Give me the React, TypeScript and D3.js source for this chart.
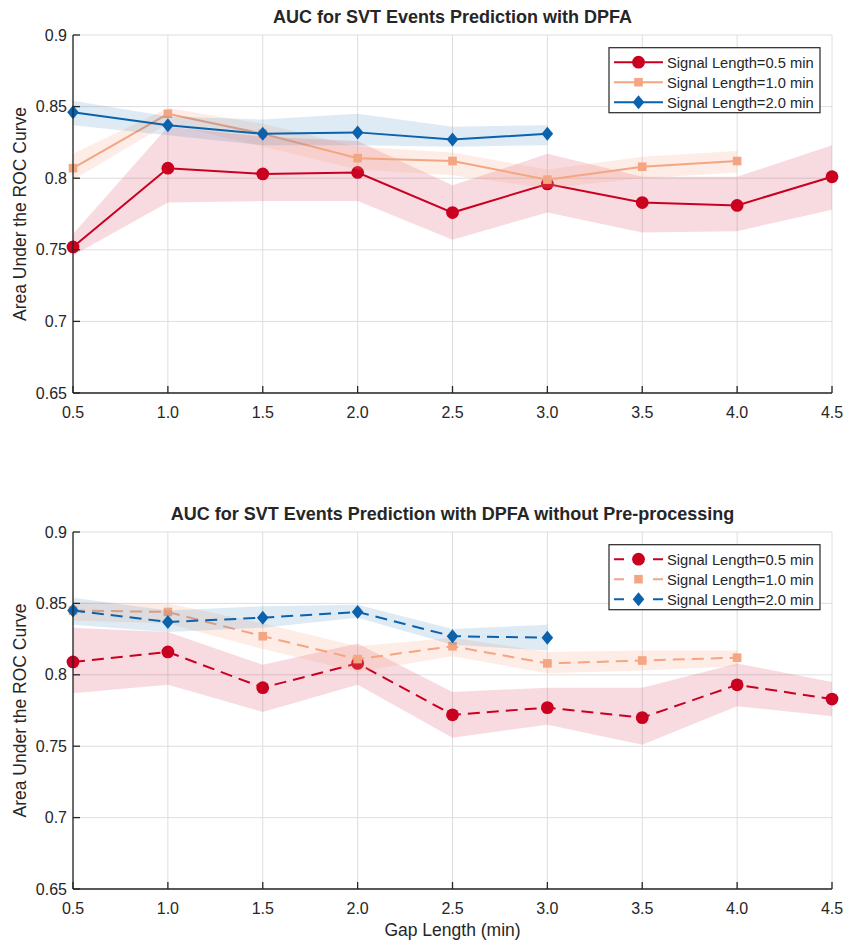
import React from "react";
import * as d3 from "d3";

const gaps = [0.5, 1.0, 1.5, 2.0, 2.5, 3.0, 3.5, 4.0, 4.5];
const xTicks = [0.5, 1.0, 1.5, 2.0, 2.5, 3.0, 3.5, 4.0, 4.5];
const yTicks = [0.65, 0.7, 0.75, 0.8, 0.85, 0.9];
const seriesNames = ["Signal Length=0.5 min", "Signal Length=1.0 min", "Signal Length=2.0 min"];
const seriesColors = ["#ca0020", "#f4a582", "#0a62ad"];
const bandOpacity = [0.14, 0.2, 0.13];
const markers = ["circle", "square", "diamond"];

// Top panel (with pre-processing)
const top05 = [0.752, 0.807, 0.803, 0.804, 0.776, 0.796, 0.783, 0.781, 0.801];
const top05Lo = [0.746, 0.783, 0.784, 0.784, 0.757, 0.776, 0.762, 0.763, 0.778];
const top05Hi = [0.761, 0.836, 0.829, 0.826, 0.795, 0.817, 0.801, 0.801, 0.823];
const top10 = [0.807, 0.845, 0.831, 0.814, 0.812, 0.799, 0.808, 0.812];
const top10Lo = [0.799, 0.838, 0.822, 0.806, 0.802, 0.793, 0.800, 0.804];
const top10Hi = [0.817, 0.849, 0.838, 0.822, 0.818, 0.806, 0.815, 0.819];
const top20 = [0.846, 0.837, 0.831, 0.832, 0.827, 0.831];
const top20Lo = [0.837, 0.830, 0.823, 0.823, 0.822, 0.823];
const top20Hi = [0.854, 0.843, 0.841, 0.845, 0.836, 0.837];

// Bottom panel (without pre-processing)
const bot05 = [0.809, 0.816, 0.791, 0.808, 0.772, 0.777, 0.770, 0.793, 0.783];
const bot05Lo = [0.787, 0.793, 0.774, 0.793, 0.756, 0.765, 0.751, 0.778, 0.771];
const bot05Hi = [0.833, 0.830, 0.807, 0.822, 0.788, 0.791, 0.791, 0.808, 0.795];
const bot10 = [0.845, 0.844, 0.827, 0.811, 0.820, 0.808, 0.810, 0.812];
const bot10Lo = [0.838, 0.836, 0.818, 0.802, 0.813, 0.801, 0.803, 0.806];
const bot10Hi = [0.851, 0.850, 0.836, 0.820, 0.826, 0.816, 0.817, 0.817];
const bot20 = [0.845, 0.837, 0.840, 0.844, 0.827, 0.826];
const bot20Lo = [0.835, 0.830, 0.833, 0.840, 0.821, 0.817];
const bot20Hi = [0.854, 0.845, 0.848, 0.849, 0.832, 0.835];

const topTitle = "AUC for SVT Events Prediction with DPFA";
const botTitle = "AUC for SVT Events Prediction with DPFA without Pre-processing";
const yLabel = "Area Under the ROC Curve";
const xLabel = "Gap Length (min)";

const FONT = "'Liberation Sans', Arial, Helvetica, sans-serif";
const TXT = "#262626";

type S = { v: number[]; lo: number[]; hi: number[] };

function Marker({ kind, x, y, color }: { kind: string; x: number; y: number; color: string }) {
  if (kind === "circle") return <circle cx={x} cy={y} r={6.4} fill={color} />;
  if (kind === "square") return <rect x={x - 4.3} y={y - 4.3} width={8.6} height={8.6} fill={color} />;
  return <path d={`M${x},${y - 7}L${x + 5.8},${y}L${x},${y + 7}L${x - 5.8},${y}Z`} fill={color} />;
}

function Panel({ top, bottom, title, series, dashed, showXLabel }: {
  top: number; bottom: number; title: string; series: S[]; dashed: boolean; showXLabel: boolean;
}) {
  const left = 73, right = 832;
  const x = d3.scaleLinear().domain([0.5, 4.5]).range([left, right]);
  const y = d3.scaleLinear().domain([0.65, 0.9]).range([bottom, top]);
  const dash = dashed ? "12 7" : undefined;
  const legTop = top + 12.7;
  return (
    <g>
      {/* grid */}
      {xTicks.map((t) => (
        <line key={"gx" + t} x1={x(t)} x2={x(t)} y1={top} y2={bottom} stroke="#dedede" strokeWidth={1} />
      ))}
      {yTicks.map((t) => (
        <line key={"gy" + t} x1={left} x2={right} y1={y(t)} y2={y(t)} stroke="#dedede" strokeWidth={1} />
      ))}
      {/* bands + lines */}
      {series.map((s, i) => {
        const idx = s.v.map((_, k) => k);
        const area = d3.area<number>().x((k) => x(gaps[k])).y0((k) => y(s.lo[k])).y1((k) => y(s.hi[k]));
        const line = d3.line<number>().x((k) => x(gaps[k])).y((k) => y(s.v[k]));
        return (
          <g key={"s" + i}>
            <path d={area(idx) || ""} fill={seriesColors[i]} fillOpacity={bandOpacity[i]} stroke="none" />
            <path d={line(idx) || ""} fill="none" stroke={seriesColors[i]} strokeWidth={2} strokeDasharray={dash} />
            {idx.map((k) => (
              <Marker key={k} kind={markers[i]} x={x(gaps[k])} y={y(s.v[k])} color={seriesColors[i]} />
            ))}
          </g>
        );
      })}
      {/* axes */}
      <line x1={left} x2={left} y1={top} y2={bottom} stroke={TXT} strokeWidth={1.3} />
      <line x1={left} x2={right} y1={bottom} y2={bottom} stroke={TXT} strokeWidth={1.3} />
      {xTicks.map((t) => (
        <g key={"xt" + t}>
          <line x1={x(t)} x2={x(t)} y1={bottom} y2={bottom - 7} stroke={TXT} strokeWidth={1.3} />
          <text x={x(t)} y={bottom + 25} textAnchor="middle" fontSize={16} fill={TXT} fontFamily={FONT}>
            {t.toFixed(1)}
          </text>
        </g>
      ))}
      {yTicks.map((t) => (
        <g key={"yt" + t}>
          <line x1={left} x2={left + 7} y1={y(t)} y2={y(t)} stroke={TXT} strokeWidth={1.3} />
          <text x={left - 6} y={y(t) + 5.5} textAnchor="end" fontSize={16} fill={TXT} fontFamily={FONT}>
            {String(t)}
          </text>
        </g>
      ))}
      <text
        transform={`translate(${26},${(top + bottom) / 2}) rotate(-90)`}
        textAnchor="middle" fontSize={17.5} fill={TXT} fontFamily={FONT}
      >
        {yLabel}
      </text>
      {showXLabel && (
        <text x={(left + right) / 2} y={bottom + 47} textAnchor="middle" fontSize={17.5} fill={TXT} fontFamily={FONT}>
          {xLabel}
        </text>
      )}
      <text x={(left + right) / 2} y={top - 12} textAnchor="middle" fontSize={18} fontWeight="bold" fill={TXT} fontFamily={FONT}>
        {title}
      </text>
      {/* legend */}
      <rect x={609} y={legTop} width={211} height={65} fill="#ffffff" stroke={TXT} strokeWidth={1.2} />
      {seriesNames.map((n, i) => {
        const ry = legTop + 14.5 + i * 20;
        return (
          <g key={"lg" + i}>
            <line x1={614} x2={663} y1={ry} y2={ry} stroke={seriesColors[i]} strokeWidth={2}
              strokeDasharray={dashed ? "10 29" : undefined} />
            <Marker kind={markers[i]} x={638.5} y={ry} color={seriesColors[i]} />
            <text x={667} y={ry + 5.3} fontSize={14.7} fill={TXT} fontFamily={FONT}>{n}</text>
          </g>
        );
      })}
    </g>
  );
}

export default function App() {
  const topSeries: S[] = [
    { v: top05, lo: top05Lo, hi: top05Hi },
    { v: top10, lo: top10Lo, hi: top10Hi },
    { v: top20, lo: top20Lo, hi: top20Hi },
  ];
  const botSeries: S[] = [
    { v: bot05, lo: bot05Lo, hi: bot05Hi },
    { v: bot10, lo: bot10Lo, hi: bot10Hi },
    { v: bot20, lo: bot20Lo, hi: bot20Hi },
  ];
  return (
    <svg width={845} height={941} style={{ position: "absolute", left: 0, top: 0, background: "#fff" }}>
      <rect width={845} height={941} fill="#ffffff" />
      <Panel top={35} bottom={393} title={topTitle} series={topSeries} dashed={false} showXLabel={false} />
      <Panel top={532} bottom={889} title={botTitle} series={botSeries} dashed={true} showXLabel={true} />
    </svg>
  );
}
